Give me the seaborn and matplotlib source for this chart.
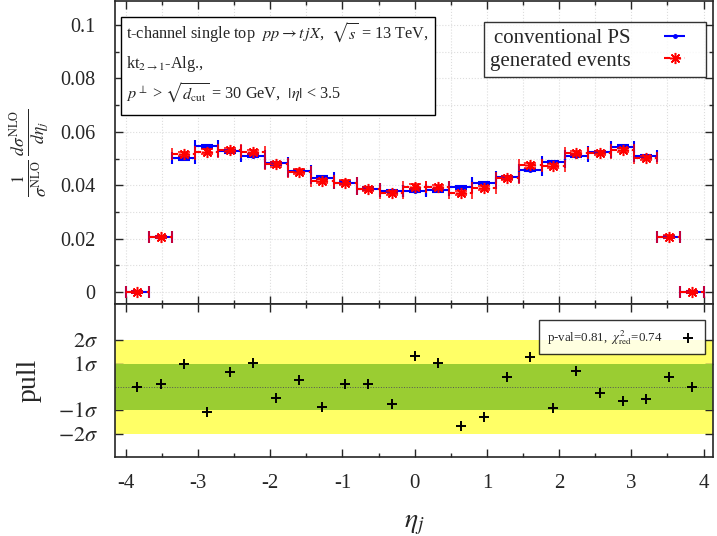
import numpy as np
import pandas as pd
import matplotlib
matplotlib.use("Agg")
import matplotlib.pyplot as plt
import seaborn as sns
from matplotlib.patches import Rectangle

# ========== DATOS ==========
eta_centers = [-3.84, -3.52, -3.20, -2.88, -2.56, -2.24, -1.92, -1.60, -1.28, -0.96,
               -0.64, -0.32, 0.00, 0.32, 0.64, 0.96, 1.28, 1.60, 1.92, 2.24,
               2.56, 2.88, 3.20, 3.52, 3.84]
bin_half = 0.16

conv_ps = [0.0, 0.0206, 0.0501, 0.0546, 0.0527, 0.0511, 0.0482, 0.0453, 0.0428, 0.0410,
           0.0387, 0.0378, 0.0380, 0.0381, 0.0392, 0.0408, 0.0430, 0.0457, 0.0487, 0.0511,
           0.0524, 0.0544, 0.0509, 0.0207, 0.0]
gen_events = [0.0, 0.0206, 0.0516, 0.0526, 0.0531, 0.0524, 0.0478, 0.0451, 0.0416, 0.0410,
              0.0385, 0.0372, 0.0395, 0.0393, 0.0371, 0.0390, 0.0427, 0.0474, 0.0472, 0.0522,
              0.0522, 0.0531, 0.0501, 0.0207, 0.0]
conv_err = [0.0002, 0.0004, 0.0005, 0.0005, 0.0005, 0.0005, 0.0005, 0.0005, 0.0005, 0.0005,
            0.0005, 0.0005, 0.0005, 0.0005, 0.0005, 0.0005, 0.0005, 0.0005, 0.0005, 0.0005,
            0.0005, 0.0005, 0.0005, 0.0004, 0.0002]
gen_err = [0.0002, 0.0005, 0.0008, 0.0008, 0.0008, 0.0008, 0.0008, 0.0008, 0.0008, 0.0008,
           0.0008, 0.0008, 0.0008, 0.0008, 0.0008, 0.0008, 0.0008, 0.0008, 0.0008, 0.0008,
           0.0008, 0.0008, 0.0008, 0.0005, 0.0002]

pull = [0.0, 0.11, 0.97, -1.09, 0.63, 1.03, -0.47, 0.29, -0.86, 0.11,
        0.13, -0.71, 1.33, 1.03, -1.67, -1.27, 0.44, 1.29, -0.89, 0.69,
        -0.27, -0.61, -0.50, 0.43, 0.0]

top_ticks = [0, 0.02, 0.04, 0.06, 0.08, 0.1]
top_ticklabels = ["0", "0.02", "0.04", "0.06", "0.08", "0.1"]
pull_ticks = [-2, -1, 1, 2]
pull_ticklabels = [r"$-2\sigma$", r"$-1\sigma$", r"$1\sigma$", r"$2\sigma$"]
x_ticks = [-4, -3, -2, -1, 0, 1, 2, 3, 4]

df_pull = pd.DataFrame({"eta": eta_centers, "pull": pull})

# ========== ESTILO ==========
sns.set_style("ticks")
plt.rcParams["font.family"] = ["Liberation Serif", "DejaVu Serif"]
plt.rcParams["mathtext.fontset"] = "stix"
plt.rcParams["xtick.direction"] = "in"
plt.rcParams["ytick.direction"] = "in"

fig = plt.figure(figsize=(7.17, 5.36), dpi=100)
ax1 = fig.add_axes([0.1604, 0.4328, 0.834, 0.5652])
ax2 = fig.add_axes([0.1604, 0.1474, 0.834, 0.2854], sharex=ax1)

blue = "#0000ff"
red = "#ff0000"
dash = (0, (3, 2))

# ========== PANEL SUPERIOR ==========
ax1.errorbar(eta_centers, conv_ps, xerr=bin_half, yerr=conv_err, fmt="",
             linestyle="none", marker="o", ms=2.5, color=blue,
             elinewidth=1.5, capsize=4, capthick=1.5, zorder=3)
eb2 = ax1.errorbar(eta_centers, gen_events, xerr=bin_half, yerr=gen_err, fmt="",
                   linestyle="none", marker=(8, 2, 0), ms=8, mew=1.1, color=red,
                   elinewidth=1.5, capsize=4, capthick=1.5, zorder=4)
for lc in eb2[2]:
    lc.set_linestyle(dash)

# entradas de la leyenda: solo barra horizontal con topes
h1 = ax1.errorbar([], [], xerr=[], fmt="", linestyle="none", marker="o", ms=2.5,
                  color=blue, elinewidth=1.5, capsize=4, capthick=1.5,
                  label="conventional PS")
h2 = ax1.errorbar([], [], xerr=[], fmt="", linestyle="none", marker=(8, 2, 0), ms=8,
                  mew=1.1, color=red, elinewidth=1.5, capsize=4, capthick=1.5,
                  label="generated events")
for lc in h2[2]:
    lc.set_linestyle(dash)

leg = ax1.legend(handles=[h1, h2], loc="upper right", bbox_to_anchor=(0.988, 0.931),
                 borderaxespad=0, markerfirst=False, fontsize=15, frameon=True,
                 fancybox=False, edgecolor="black", handlelength=2.4,
                 labelspacing=0.15, borderpad=0.3, handletextpad=0.9)
leg.get_frame().set_linewidth(1.0)

ax1.set_ylim(-0.0045, 0.109)
ax1.set_yticks(top_ticks)
ax1.set_yticklabels(top_ticklabels)
ax1.set_yticks(np.arange(0.0, 0.11, 0.01), minor=True)
ax1.set_xticks(np.arange(-4, 4.01, 0.5), minor=True)
ax1.grid(True, which="both", color="#dddddd", linestyle=":", linewidth=0.8)
ax1.tick_params(axis="both", which="both", top=True, right=True, labelsize=14.5,
                length=6, width=1.0)
ax1.tick_params(axis="both", which="minor", length=3)
ax1.tick_params(axis="y", pad=14)
ax1.tick_params(axis="x", labelbottom=False)

ax1.add_patch(Rectangle((0.01, 0.624), 0.525, 0.323, transform=ax1.transAxes,
                        facecolor="white", edgecolor="black", linewidth=1.0, zorder=6))
info_lines = [
    "t-channel single top  $pp \\rightarrow t\\,jX$,  $\\sqrt{s}$ = 13 TeV,",
    "kt$_{2\\rightarrow 1}$-Alg.,",
    "$p^{\\perp}$ > $\\sqrt{d_{\\rm cut}}$ = 30 GeV,  $|\\eta|$ < 3.5",
]
for yl, line in zip([0.894, 0.792, 0.696], info_lines):
    ax1.text(0.0184, yl, line, transform=ax1.transAxes, ha="left", va="center",
             fontsize=11.7, zorder=7)

ax1.set_ylabel(r"$\frac{1}{\sigma^{\rm NLO}}\,\frac{d\sigma^{\rm NLO}}{d\eta_j}$",
               fontsize=18, labelpad=6)

# ========== PANEL INFERIOR ==========
ax2.axhspan(-2, 2, color="#ffff66", zorder=0, lw=0)
ax2.axhspan(-1, 1, color="#9acd32", zorder=1, lw=0)
ax2.axhline(0, color="#555555", linestyle=":", linewidth=0.7, zorder=2)
sns.scatterplot(data=df_pull, x="eta", y="pull", ax=ax2, marker="+", s=55,
                color="black", linewidth=1.4, zorder=5,
                label=r"p-val=0.81,  $\chi^2_{\rm red}$=0.74")
leg2 = ax2.legend(loc="upper right", bbox_to_anchor=(0.9866, 0.895), borderaxespad=0,
                  markerfirst=False, fontsize=9.3, frameon=True, fancybox=False,
                  edgecolor="black", handlelength=1.5, borderpad=0.6,
                  handletextpad=1.2)
leg2.get_frame().set_linewidth(1.0)
leg2.set_zorder(10)

ax2.set_ylim(-3.0, 3.56)
ax2.set_yticks(pull_ticks)
ax2.set_yticklabels(pull_ticklabels)
ax2.set_xlim(-4.15, 4.13)
ax2.set_xticks(x_ticks)
ax2.set_xticklabels([str(t) for t in x_ticks])
ax2.set_xticks(np.arange(-4, 4.01, 0.5), minor=True)
ax2.tick_params(axis="both", which="both", top=True, right=True, labelsize=16,
                length=6, width=1.0)
ax2.tick_params(axis="both", which="minor", length=3)
ax2.tick_params(axis="x", labelsize=15, pad=12)
ax2.tick_params(axis="y", pad=12)
ax2.set_xlabel(r"$\eta_j$", fontsize=20, labelpad=14)
ax2.set_ylabel("pull", fontsize=20, labelpad=12)

for ax in (ax1, ax2):
    for s in ax.spines.values():
        s.set_linewidth(1.2)
        s.set_visible(True)

fig.savefig("out.png", dpi=100)
